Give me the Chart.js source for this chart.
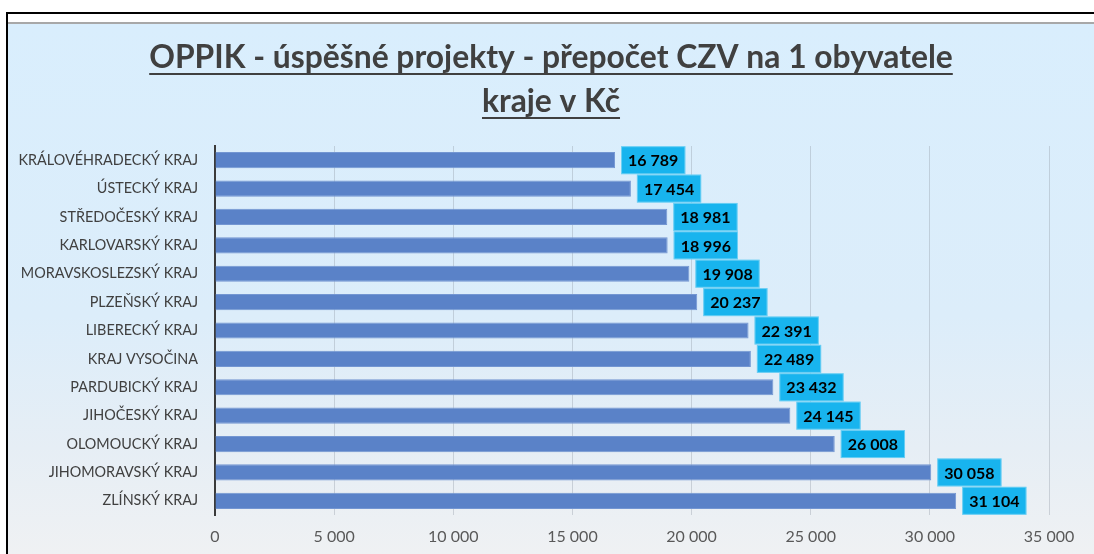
<!DOCTYPE html>
<html>
<head>
<meta charset="utf-8">
<script src="https://cdn.jsdelivr.net/npm/chart.js@4.4.0/dist/chart.umd.min.js"></script>
<style>
  html, body { margin: 0; padding: 0; background: #ffffff; width: 1094px; height: 554px; overflow: hidden; }
  #frame { position: absolute; left: 6px; top: 12px; width: 1088px; height: 542px;
           border-top: 2px solid #000; border-left: 2px solid #000; box-sizing: border-box; }
  #greyline { position: absolute; left: 8px; top: 22px; width: 1086px; height: 2px; background: #a8a8a8; }
  #wrap { position: absolute; left: 8px; top: 24px; width: 1086px; height: 530px;
          background: linear-gradient(180deg, #d9eefd 0%, #dcedfa 55%, #e6eef5 80%, #eff1f3 100%); }
</style>
</head>
<body>
<div id="frame"></div>
<div id="greyline"></div>
<div id="wrap"><canvas id="c" width="1086" height="530"></canvas></div>
<script>
const titleLines = ["OPPIK - úspěšné projekty - přepočet CZV na 1 obyvatele", "kraje v Kč"];
const categories = [
  "KRÁLOVÉHRADECKÝ KRAJ", "ÚSTECKÝ KRAJ", "STŘEDOČESKÝ KRAJ", "KARLOVARSKÝ KRAJ",
  "MORAVSKOSLEZSKÝ KRAJ", "PLZEŇSKÝ KRAJ", "LIBERECKÝ KRAJ", "KRAJ VYSOČINA",
  "PARDUBICKÝ KRAJ", "JIHOČESKÝ KRAJ", "OLOMOUCKÝ KRAJ", "JIHOMORAVSKÝ KRAJ", "ZLÍNSKÝ KRAJ"
];
const values = [16789, 17454, 18981, 18996, 19908, 20237, 22391, 22489, 23432, 24145, 26008, 30058, 31104];
const axisMin = 0, axisMax = 35000, axisStep = 5000;

function fmt(v) { return String(Math.round(v)).replace(/\B(?=(\d{3})+(?!\d))/g, " "); }

const FONT = "Lato, 'Open Sans', sans-serif";
const TITLE_SIZE = 31.8;

const underlinePlugin = {
  id: 'underlineTitle',
  afterDraw(chart) {
    const tb = chart.titleBlock;
    if (!tb) return;
    const o = chart.options.plugins.title;
    const ctx = chart.ctx;
    ctx.save();
    ctx.font = "bold " + o.font.size + "px " + FONT;
    const lh = o.font.size * o.font.lineHeight;
    const centerX = tb.left + tb.width / 2;
    titleLines.forEach((t, i) => {
      const w = ctx.measureText(t).width;
      const y = tb.top + o.padding.top + lh / 2 + i * lh + 16;
      ctx.fillStyle = o.color;
      ctx.fillRect(centerX - w / 2, y - 1, w, 2);
    });
    ctx.restore();
  }
};

const labelPlugin = {
  id: 'boxLabels',
  afterDatasetsDraw(chart) {
    const ctx = chart.ctx;
    const meta = chart.getDatasetMeta(0);
    ctx.save();
    ctx.font = "bold 16px " + FONT;
    ctx.textBaseline = 'middle';
    ctx.textAlign = 'left';
    meta.data.forEach((el, i) => {
      const txt = fmt(values[i]);
      const tw = ctx.measureText(txt).width;
      const bx = el.x + 6, bw = tw + 14, bh = 28;
      const by = el.y - bh / 2;
      ctx.fillStyle = '#18b4ee';
      ctx.fillRect(bx, by, bw, bh);
      ctx.strokeStyle = 'rgba(255,255,255,0.35)';
      ctx.lineWidth = 1;
      ctx.strokeRect(bx + 0.5, by + 0.5, bw - 1, bh - 1);
      ctx.fillStyle = '#000000';
      ctx.fillText(txt, bx + 7, el.y + 1);
    });
    ctx.restore();
  }
};

new Chart(document.getElementById('c'), {
  type: 'bar',
  data: {
    labels: categories,
    datasets: [{
      data: values,
      backgroundColor: '#5a82c8',
      borderColor: '#7396d2',
      borderWidth: 1,
      borderSkipped: 'left',
      barPercentage: 0.57,
      categoryPercentage: 1.0
    }]
  },
  options: {
    indexAxis: 'y',
    responsive: false,
    animation: false,
    devicePixelRatio: 1,
    layout: { padding: { left: 0, right: 0, top: 0, bottom: 0 } },
    plugins: {
      legend: { display: false },
      tooltip: { enabled: false },
      title: {
        display: true,
        text: titleLines,
        color: '#404040',
        font: { family: FONT, size: TITLE_SIZE, weight: 'bold', lineHeight: 44 / TITLE_SIZE },
        padding: { top: 12, bottom: 22 }
      }
    },
    scales: {
      x: {
        min: axisMin, max: axisMax,
        ticks: { stepSize: axisStep, color: '#595959', font: { family: FONT, size: 16 }, padding: 12.5,
                 maxRotation: 0, callback: (v) => fmt(v) },
        grid: { color: 'rgba(140,150,160,0.35)', drawTicks: false, lineWidth: 1 },
        border: { display: false },
        afterFit(scale) { scale.height = 39; scale.paddingRight = 45; }
      },
      y: {
        ticks: { color: '#404040', font: { family: FONT, size: 14.4 }, padding: 17 },
        grid: { display: false, drawTicks: false },
        border: { display: true, color: '#3a3a3a', width: 2 },
        afterFit(scale) { scale.width = 207; }
      }
    }
  },
  plugins: [underlinePlugin, labelPlugin]
});
</script>
</body>
</html>
